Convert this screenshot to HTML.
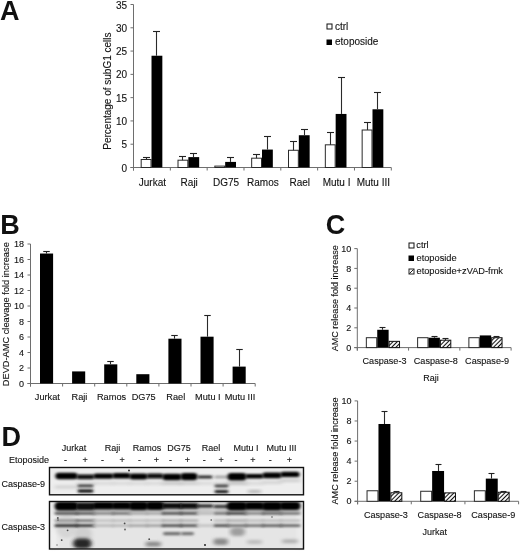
<!DOCTYPE html><html><head><meta charset="utf-8"><style>html,body{margin:0;padding:0;background:#fff;}svg{display:block;filter:grayscale(1);font-family:"Liberation Sans",sans-serif;}text{stroke:#222;stroke-width:0.12px;paint-order:stroke;}text[font-weight]{stroke:none;}</style></head><body>
<svg width="520" height="552" viewBox="0 0 520 552" font-family="Liberation Sans, sans-serif" fill="#111">
<defs>
<pattern id="hatch" patternUnits="userSpaceOnUse" width="3" height="3" patternTransform="rotate(45)">
<rect width="3" height="3" fill="#fff" stroke="none"/><rect x="0" y="0" width="1.05" height="3" fill="#111" stroke="none"/>
</pattern>
<filter id="b1" x="-20%" y="-100%" width="140%" height="300%"><feGaussianBlur stdDeviation="1.6 1.0"/></filter>
<filter id="b2" x="-20%" y="-100%" width="140%" height="300%"><feGaussianBlur stdDeviation="2.2 1.4"/></filter>
<filter id="b3" x="-50%" y="-100%" width="200%" height="300%"><feGaussianBlur stdDeviation="1.0 0.7"/></filter>
<clipPath id="c1"><rect x="49.5" y="467.5" width="254" height="27.3"/></clipPath>
<clipPath id="c2"><rect x="49.5" y="501.5" width="254" height="47.5"/></clipPath>
</defs>
<rect x="0" y="0" width="520" height="552" fill="#fff"/>
<g>
<text x="0" y="20" font-size="27" text-anchor="start" font-weight="bold" >A</text>
<text x="0.3" y="234" font-size="27" text-anchor="start" font-weight="bold" >B</text>
<text x="325.7" y="234" font-size="27" text-anchor="start" font-weight="bold" >C</text>
<text x="1.5" y="445.5" font-size="27" text-anchor="start" font-weight="bold" >D</text>
<line x1="133.5" y1="4.5" x2="133.5" y2="170.5" stroke="#6e6e6e" stroke-width="1"/>
<line x1="130.5" y1="167.5" x2="133.5" y2="167.5" stroke="#6e6e6e" stroke-width="1"/>
<text x="127" y="171.5" font-size="10" text-anchor="end" >0</text>
<line x1="130.5" y1="144.21" x2="133.5" y2="144.21" stroke="#6e6e6e" stroke-width="1"/>
<text x="127" y="148.21" font-size="10" text-anchor="end" >5</text>
<line x1="130.5" y1="120.93" x2="133.5" y2="120.93" stroke="#6e6e6e" stroke-width="1"/>
<text x="127" y="124.93" font-size="10" text-anchor="end" >10</text>
<line x1="130.5" y1="97.64" x2="133.5" y2="97.64" stroke="#6e6e6e" stroke-width="1"/>
<text x="127" y="101.64" font-size="10" text-anchor="end" >15</text>
<line x1="130.5" y1="74.36" x2="133.5" y2="74.36" stroke="#6e6e6e" stroke-width="1"/>
<text x="127" y="78.36" font-size="10" text-anchor="end" >20</text>
<line x1="130.5" y1="51.07" x2="133.5" y2="51.07" stroke="#6e6e6e" stroke-width="1"/>
<text x="127" y="55.07" font-size="10" text-anchor="end" >25</text>
<line x1="130.5" y1="27.79" x2="133.5" y2="27.79" stroke="#6e6e6e" stroke-width="1"/>
<text x="127" y="31.79" font-size="10" text-anchor="end" >30</text>
<line x1="130.5" y1="4.5" x2="133.5" y2="4.5" stroke="#6e6e6e" stroke-width="1"/>
<text x="127" y="8.5" font-size="10" text-anchor="end" >35</text>
<line x1="130.5" y1="167.5" x2="391.3" y2="167.5" stroke="#6e6e6e" stroke-width="1"/>
<line x1="133.5" y1="167.5" x2="133.5" y2="170.5" stroke="#6e6e6e" stroke-width="1"/>
<line x1="170.33" y1="167.5" x2="170.33" y2="170.5" stroke="#6e6e6e" stroke-width="1"/>
<line x1="207.16" y1="167.5" x2="207.16" y2="170.5" stroke="#6e6e6e" stroke-width="1"/>
<line x1="243.99" y1="167.5" x2="243.99" y2="170.5" stroke="#6e6e6e" stroke-width="1"/>
<line x1="280.81" y1="167.5" x2="280.81" y2="170.5" stroke="#6e6e6e" stroke-width="1"/>
<line x1="317.64" y1="167.5" x2="317.64" y2="170.5" stroke="#6e6e6e" stroke-width="1"/>
<line x1="354.47" y1="167.5" x2="354.47" y2="170.5" stroke="#6e6e6e" stroke-width="1"/>
<line x1="391.3" y1="167.5" x2="391.3" y2="170.5" stroke="#6e6e6e" stroke-width="1"/>
<rect x="141.18" y="159.49" width="9.83" height="8.01" fill="#fff" stroke="#2a2a2a" stroke-width="1"/>
<rect x="151.51" y="55.73" width="10.83" height="111.77" fill="#000" stroke="none" stroke-width="0"/>
<line x1="146.5" y1="159.49" x2="146.5" y2="157.5" stroke="#2a2a2a" stroke-width="1.1"/>
<line x1="143" y1="157.5" x2="150" y2="157.5" stroke="#222" stroke-width="1.1"/>
<line x1="156.5" y1="55.73" x2="156.5" y2="31.5" stroke="#2a2a2a" stroke-width="1.1"/>
<line x1="153" y1="31.5" x2="160" y2="31.5" stroke="#222" stroke-width="1.1"/>
<text x="152.41" y="185.5" font-size="10" text-anchor="middle" >Jurkat</text>
<rect x="178.01" y="160.19" width="9.83" height="7.31" fill="#fff" stroke="#2a2a2a" stroke-width="1"/>
<rect x="188.34" y="157.11" width="10.83" height="10.39" fill="#000" stroke="none" stroke-width="0"/>
<line x1="182.5" y1="160.19" x2="182.5" y2="156.5" stroke="#2a2a2a" stroke-width="1.1"/>
<line x1="179" y1="156.5" x2="186" y2="156.5" stroke="#222" stroke-width="1.1"/>
<line x1="193.5" y1="157.11" x2="193.5" y2="153.5" stroke="#2a2a2a" stroke-width="1.1"/>
<line x1="190" y1="153.5" x2="197" y2="153.5" stroke="#222" stroke-width="1.1"/>
<text x="189.24" y="185.5" font-size="10" text-anchor="middle" >Raji</text>
<rect x="214.84" y="166.1" width="9.83" height="1.4" fill="#fff" stroke="#2a2a2a" stroke-width="1"/>
<rect x="225.17" y="161.91" width="10.83" height="5.59" fill="#000" stroke="none" stroke-width="0"/>
<line x1="230.5" y1="161.91" x2="230.5" y2="157.5" stroke="#2a2a2a" stroke-width="1.1"/>
<line x1="227" y1="157.5" x2="234" y2="157.5" stroke="#222" stroke-width="1.1"/>
<text x="226.07" y="185.5" font-size="10" text-anchor="middle" >DG75</text>
<rect x="251.67" y="158.19" width="9.83" height="9.31" fill="#fff" stroke="#2a2a2a" stroke-width="1"/>
<rect x="262" y="149.57" width="10.83" height="17.93" fill="#000" stroke="none" stroke-width="0"/>
<line x1="256.5" y1="158.19" x2="256.5" y2="154.5" stroke="#2a2a2a" stroke-width="1.1"/>
<line x1="253" y1="154.5" x2="260" y2="154.5" stroke="#222" stroke-width="1.1"/>
<line x1="267.5" y1="149.57" x2="267.5" y2="136.5" stroke="#2a2a2a" stroke-width="1.1"/>
<line x1="264" y1="136.5" x2="271" y2="136.5" stroke="#222" stroke-width="1.1"/>
<text x="262.9" y="185.5" font-size="10" text-anchor="middle" >Ramos</text>
<rect x="288.5" y="150.27" width="9.83" height="17.23" fill="#fff" stroke="#2a2a2a" stroke-width="1"/>
<rect x="298.83" y="135.23" width="10.83" height="32.27" fill="#000" stroke="none" stroke-width="0"/>
<line x1="293.5" y1="150.27" x2="293.5" y2="141.5" stroke="#2a2a2a" stroke-width="1.1"/>
<line x1="290" y1="141.5" x2="297" y2="141.5" stroke="#222" stroke-width="1.1"/>
<line x1="304.5" y1="135.23" x2="304.5" y2="129.5" stroke="#2a2a2a" stroke-width="1.1"/>
<line x1="301" y1="129.5" x2="308" y2="129.5" stroke="#222" stroke-width="1.1"/>
<text x="299.73" y="185.5" font-size="10" text-anchor="middle" >Rael</text>
<rect x="325.33" y="144.82" width="9.83" height="22.68" fill="#fff" stroke="#2a2a2a" stroke-width="1"/>
<rect x="335.66" y="113.94" width="10.83" height="53.56" fill="#000" stroke="none" stroke-width="0"/>
<line x1="330.5" y1="144.82" x2="330.5" y2="132.5" stroke="#2a2a2a" stroke-width="1.1"/>
<line x1="327" y1="132.5" x2="334" y2="132.5" stroke="#222" stroke-width="1.1"/>
<line x1="341.5" y1="113.94" x2="341.5" y2="77.5" stroke="#2a2a2a" stroke-width="1.1"/>
<line x1="338" y1="77.5" x2="345" y2="77.5" stroke="#222" stroke-width="1.1"/>
<text x="336.56" y="185.5" font-size="10" text-anchor="middle" >Mutu I</text>
<rect x="362.15" y="130.01" width="9.83" height="37.49" fill="#fff" stroke="#2a2a2a" stroke-width="1"/>
<rect x="372.49" y="109.29" width="10.83" height="58.21" fill="#000" stroke="none" stroke-width="0"/>
<line x1="367.5" y1="130.01" x2="367.5" y2="122.5" stroke="#2a2a2a" stroke-width="1.1"/>
<line x1="364" y1="122.5" x2="371" y2="122.5" stroke="#222" stroke-width="1.1"/>
<line x1="377.5" y1="109.29" x2="377.5" y2="92.5" stroke="#2a2a2a" stroke-width="1.1"/>
<line x1="374" y1="92.5" x2="381" y2="92.5" stroke="#222" stroke-width="1.1"/>
<text x="373.39" y="185.5" font-size="10" text-anchor="middle" >Mutu III</text>
<text x="0" y="0" font-size="10" text-anchor="middle" transform="translate(111,91.1) rotate(-90)">Percentage of subG1 cells</text>
<rect x="327" y="24" width="5" height="5" fill="#fff" stroke="#111" stroke-width="1"/>
<text x="335" y="29.5" font-size="10" text-anchor="start" >ctrl</text>
<rect x="326.5" y="39.5" width="5.5" height="5.5" fill="#000" stroke="none" stroke-width="0"/>
<text x="335" y="45" font-size="10" text-anchor="start" >etoposide</text>
<line x1="30.5" y1="244" x2="30.5" y2="386.5" stroke="#6e6e6e" stroke-width="1"/>
<line x1="27.5" y1="383.5" x2="30.5" y2="383.5" stroke="#6e6e6e" stroke-width="1"/>
<text x="24" y="386.65" font-size="9" text-anchor="end" >0</text>
<line x1="27.5" y1="368" x2="30.5" y2="368" stroke="#6e6e6e" stroke-width="1"/>
<text x="24" y="371.15" font-size="9" text-anchor="end" >2</text>
<line x1="27.5" y1="352.5" x2="30.5" y2="352.5" stroke="#6e6e6e" stroke-width="1"/>
<text x="24" y="355.65" font-size="9" text-anchor="end" >4</text>
<line x1="27.5" y1="337" x2="30.5" y2="337" stroke="#6e6e6e" stroke-width="1"/>
<text x="24" y="340.15" font-size="9" text-anchor="end" >6</text>
<line x1="27.5" y1="321.5" x2="30.5" y2="321.5" stroke="#6e6e6e" stroke-width="1"/>
<text x="24" y="324.65" font-size="9" text-anchor="end" >8</text>
<line x1="27.5" y1="306" x2="30.5" y2="306" stroke="#6e6e6e" stroke-width="1"/>
<text x="24" y="309.15" font-size="9" text-anchor="end" >10</text>
<line x1="27.5" y1="290.5" x2="30.5" y2="290.5" stroke="#6e6e6e" stroke-width="1"/>
<text x="24" y="293.65" font-size="9" text-anchor="end" >12</text>
<line x1="27.5" y1="275" x2="30.5" y2="275" stroke="#6e6e6e" stroke-width="1"/>
<text x="24" y="278.15" font-size="9" text-anchor="end" >14</text>
<line x1="27.5" y1="259.5" x2="30.5" y2="259.5" stroke="#6e6e6e" stroke-width="1"/>
<text x="24" y="262.65" font-size="9" text-anchor="end" >16</text>
<line x1="27.5" y1="244" x2="30.5" y2="244" stroke="#6e6e6e" stroke-width="1"/>
<text x="24" y="247.15" font-size="9" text-anchor="end" >18</text>
<line x1="27.5" y1="383.5" x2="255.2" y2="383.5" stroke="#6e6e6e" stroke-width="1"/>
<line x1="30.5" y1="383.5" x2="30.5" y2="386.5" stroke="#6e6e6e" stroke-width="1"/>
<line x1="62.6" y1="383.5" x2="62.6" y2="386.5" stroke="#6e6e6e" stroke-width="1"/>
<line x1="94.7" y1="383.5" x2="94.7" y2="386.5" stroke="#6e6e6e" stroke-width="1"/>
<line x1="126.8" y1="383.5" x2="126.8" y2="386.5" stroke="#6e6e6e" stroke-width="1"/>
<line x1="158.9" y1="383.5" x2="158.9" y2="386.5" stroke="#6e6e6e" stroke-width="1"/>
<line x1="191" y1="383.5" x2="191" y2="386.5" stroke="#6e6e6e" stroke-width="1"/>
<line x1="223.1" y1="383.5" x2="223.1" y2="386.5" stroke="#6e6e6e" stroke-width="1"/>
<line x1="255.2" y1="383.5" x2="255.2" y2="386.5" stroke="#6e6e6e" stroke-width="1"/>
<rect x="40" y="253.53" width="13.1" height="129.97" fill="#000" stroke="none" stroke-width="0"/>
<line x1="46.5" y1="253.53" x2="46.5" y2="251.5" stroke="#2a2a2a" stroke-width="1.1"/>
<line x1="43.25" y1="251.5" x2="49.75" y2="251.5" stroke="#222" stroke-width="1.1"/>
<text x="47.35" y="399.5" font-size="9.2" text-anchor="middle" >Jurkat</text>
<rect x="72.1" y="371.41" width="13.1" height="12.09" fill="#000" stroke="none" stroke-width="0"/>
<text x="79.45" y="399.5" font-size="9.2" text-anchor="middle" >Raji</text>
<rect x="104.2" y="364.36" width="13.1" height="19.14" fill="#000" stroke="none" stroke-width="0"/>
<line x1="110.5" y1="364.36" x2="110.5" y2="361.5" stroke="#2a2a2a" stroke-width="1.1"/>
<line x1="107.25" y1="361.5" x2="113.75" y2="361.5" stroke="#222" stroke-width="1.1"/>
<text x="111.55" y="399.5" font-size="9.2" text-anchor="middle" >Ramos</text>
<rect x="136.3" y="374.2" width="13.1" height="9.3" fill="#000" stroke="none" stroke-width="0"/>
<text x="143.65" y="399.5" font-size="9.2" text-anchor="middle" >DG75</text>
<rect x="168.4" y="338.7" width="13.1" height="44.8" fill="#000" stroke="none" stroke-width="0"/>
<line x1="174.5" y1="338.7" x2="174.5" y2="335.5" stroke="#2a2a2a" stroke-width="1.1"/>
<line x1="171.25" y1="335.5" x2="177.75" y2="335.5" stroke="#222" stroke-width="1.1"/>
<text x="175.75" y="399.5" font-size="9.2" text-anchor="middle" >Rael</text>
<rect x="200.5" y="336.69" width="13.1" height="46.81" fill="#000" stroke="none" stroke-width="0"/>
<line x1="207.5" y1="336.69" x2="207.5" y2="315.5" stroke="#2a2a2a" stroke-width="1.1"/>
<line x1="204.25" y1="315.5" x2="210.75" y2="315.5" stroke="#222" stroke-width="1.1"/>
<text x="207.85" y="399.5" font-size="9.2" text-anchor="middle" >Mutu I</text>
<rect x="232.6" y="366.61" width="13.1" height="16.89" fill="#000" stroke="none" stroke-width="0"/>
<line x1="239.5" y1="366.61" x2="239.5" y2="349.5" stroke="#2a2a2a" stroke-width="1.1"/>
<line x1="236.25" y1="349.5" x2="242.75" y2="349.5" stroke="#222" stroke-width="1.1"/>
<text x="239.95" y="399.5" font-size="9.2" text-anchor="middle" >Mutu III</text>
<text x="0" y="0" font-size="9.25" text-anchor="middle" transform="translate(8.7,314.2) rotate(-90)">DEVD-AMC cleavage fold increase</text>
<line x1="357.3" y1="248.6" x2="357.3" y2="350.6" stroke="#6e6e6e" stroke-width="1"/>
<line x1="354.3" y1="347.6" x2="357.3" y2="347.6" stroke="#6e6e6e" stroke-width="1"/>
<text x="351.3" y="350.75" font-size="9" text-anchor="end" >0</text>
<line x1="354.3" y1="327.8" x2="357.3" y2="327.8" stroke="#6e6e6e" stroke-width="1"/>
<text x="351.3" y="330.95" font-size="9" text-anchor="end" >2</text>
<line x1="354.3" y1="308" x2="357.3" y2="308" stroke="#6e6e6e" stroke-width="1"/>
<text x="351.3" y="311.15" font-size="9" text-anchor="end" >4</text>
<line x1="354.3" y1="288.2" x2="357.3" y2="288.2" stroke="#6e6e6e" stroke-width="1"/>
<text x="351.3" y="291.35" font-size="9" text-anchor="end" >6</text>
<line x1="354.3" y1="268.4" x2="357.3" y2="268.4" stroke="#6e6e6e" stroke-width="1"/>
<text x="351.3" y="271.55" font-size="9" text-anchor="end" >8</text>
<line x1="354.3" y1="248.6" x2="357.3" y2="248.6" stroke="#6e6e6e" stroke-width="1"/>
<text x="351.3" y="251.75" font-size="9" text-anchor="end" >10</text>
<line x1="354.3" y1="347.6" x2="511.1" y2="347.6" stroke="#6e6e6e" stroke-width="1"/>
<line x1="357.3" y1="347.6" x2="357.3" y2="350.6" stroke="#6e6e6e" stroke-width="1"/>
<line x1="408.57" y1="347.6" x2="408.57" y2="350.6" stroke="#6e6e6e" stroke-width="1"/>
<line x1="459.83" y1="347.6" x2="459.83" y2="350.6" stroke="#6e6e6e" stroke-width="1"/>
<line x1="511.1" y1="347.6" x2="511.1" y2="350.6" stroke="#6e6e6e" stroke-width="1"/>
<rect x="366.34" y="337.7" width="10.39" height="9.9" fill="#fff" stroke="#2a2a2a" stroke-width="1"/>
<rect x="377.24" y="329.78" width="11.39" height="17.82" fill="#000" stroke="none" stroke-width="0"/>
<rect x="389.13" y="341.36" width="10.39" height="6.24" fill="url(#hatch)" stroke="#111" stroke-width="1"/>
<line x1="382.5" y1="329.78" x2="382.5" y2="327.5" stroke="#2a2a2a" stroke-width="1.1"/>
<line x1="379.5" y1="327.5" x2="385.5" y2="327.5" stroke="#222" stroke-width="1.1"/>
<text x="384.53" y="364.4" font-size="9.1" text-anchor="middle" >Caspase-3</text>
<rect x="417.61" y="337.7" width="10.39" height="9.9" fill="#fff" stroke="#2a2a2a" stroke-width="1"/>
<rect x="428.5" y="337.7" width="11.39" height="9.9" fill="#000" stroke="none" stroke-width="0"/>
<rect x="440.4" y="340.18" width="10.39" height="7.43" fill="url(#hatch)" stroke="#111" stroke-width="1"/>
<line x1="434.5" y1="337.7" x2="434.5" y2="336.5" stroke="#2a2a2a" stroke-width="1.1"/>
<line x1="431.5" y1="336.5" x2="437.5" y2="336.5" stroke="#222" stroke-width="1.1"/>
<line x1="445.5" y1="340.18" x2="445.5" y2="338.5" stroke="#2a2a2a" stroke-width="1.1"/>
<line x1="442.5" y1="338.5" x2="448.5" y2="338.5" stroke="#222" stroke-width="1.1"/>
<text x="435.8" y="364.4" font-size="9.1" text-anchor="middle" >Caspase-8</text>
<rect x="468.88" y="337.7" width="10.39" height="9.9" fill="#fff" stroke="#2a2a2a" stroke-width="1"/>
<rect x="479.77" y="335.42" width="11.39" height="12.18" fill="#000" stroke="none" stroke-width="0"/>
<rect x="491.66" y="337.7" width="10.39" height="9.9" fill="url(#hatch)" stroke="#111" stroke-width="1"/>
<line x1="496.5" y1="337.7" x2="496.5" y2="336.5" stroke="#2a2a2a" stroke-width="1.1"/>
<line x1="493.5" y1="336.5" x2="499.5" y2="336.5" stroke="#222" stroke-width="1.1"/>
<text x="487.07" y="364.4" font-size="9.1" text-anchor="middle" >Caspase-9</text>
<text x="0" y="0" font-size="9.05" text-anchor="middle" transform="translate(337.5,298.3) rotate(-90)">AMC release fold increase</text>
<text x="431" y="380.8" font-size="9" text-anchor="middle" >Raji</text>
<rect x="409" y="243" width="5" height="5" fill="#fff" stroke="#111" stroke-width="1"/>
<text x="416.3" y="248.3" font-size="9.25" text-anchor="start" >ctrl</text>
<rect x="408.5" y="255.5" width="5.5" height="5.5" fill="#000" stroke="none" stroke-width="0"/>
<text x="416.5" y="261" font-size="9.25" text-anchor="start" >etoposide</text>
<rect x="409" y="269" width="5" height="5" fill="#fff" stroke="#222" stroke-width="1"/>
<line x1="409.3" y1="273.7" x2="413.7" y2="269.3" stroke="#222" stroke-width="1"/>
<text x="416.5" y="274" font-size="9.25" text-anchor="start" >etoposide+zVAD-fmk</text>
<line x1="357.6" y1="400.9" x2="357.6" y2="504.3" stroke="#6e6e6e" stroke-width="1"/>
<line x1="354.6" y1="501.3" x2="357.6" y2="501.3" stroke="#6e6e6e" stroke-width="1"/>
<text x="351.6" y="504.45" font-size="9" text-anchor="end" >0</text>
<line x1="354.6" y1="481.22" x2="357.6" y2="481.22" stroke="#6e6e6e" stroke-width="1"/>
<text x="351.6" y="484.37" font-size="9" text-anchor="end" >2</text>
<line x1="354.6" y1="461.14" x2="357.6" y2="461.14" stroke="#6e6e6e" stroke-width="1"/>
<text x="351.6" y="464.29" font-size="9" text-anchor="end" >4</text>
<line x1="354.6" y1="441.06" x2="357.6" y2="441.06" stroke="#6e6e6e" stroke-width="1"/>
<text x="351.6" y="444.21" font-size="9" text-anchor="end" >6</text>
<line x1="354.6" y1="420.98" x2="357.6" y2="420.98" stroke="#6e6e6e" stroke-width="1"/>
<text x="351.6" y="424.13" font-size="9" text-anchor="end" >8</text>
<line x1="354.6" y1="400.9" x2="357.6" y2="400.9" stroke="#6e6e6e" stroke-width="1"/>
<text x="351.6" y="404.05" font-size="9" text-anchor="end" >10</text>
<line x1="354.6" y1="501.3" x2="518.6" y2="501.3" stroke="#6e6e6e" stroke-width="1"/>
<line x1="357.6" y1="501.3" x2="357.6" y2="504.3" stroke="#6e6e6e" stroke-width="1"/>
<line x1="411.27" y1="501.3" x2="411.27" y2="504.3" stroke="#6e6e6e" stroke-width="1"/>
<line x1="464.93" y1="501.3" x2="464.93" y2="504.3" stroke="#6e6e6e" stroke-width="1"/>
<line x1="518.6" y1="501.3" x2="518.6" y2="504.3" stroke="#6e6e6e" stroke-width="1"/>
<rect x="367.04" y="490.76" width="10.93" height="10.54" fill="#fff" stroke="#2a2a2a" stroke-width="1"/>
<rect x="378.47" y="423.99" width="11.93" height="77.31" fill="#000" stroke="none" stroke-width="0"/>
<rect x="390.9" y="492.77" width="10.93" height="8.53" fill="url(#hatch)" stroke="#111" stroke-width="1"/>
<line x1="384.5" y1="423.99" x2="384.5" y2="411.5" stroke="#2a2a2a" stroke-width="1.1"/>
<line x1="381.5" y1="411.5" x2="387.5" y2="411.5" stroke="#222" stroke-width="1.1"/>
<line x1="396.5" y1="492.77" x2="396.5" y2="491.5" stroke="#2a2a2a" stroke-width="1.1"/>
<line x1="393.5" y1="491.5" x2="399.5" y2="491.5" stroke="#222" stroke-width="1.1"/>
<text x="385.93" y="517.8" font-size="9.1" text-anchor="middle" >Caspase-3</text>
<rect x="420.71" y="491.26" width="10.93" height="10.04" fill="#fff" stroke="#2a2a2a" stroke-width="1"/>
<rect x="432.14" y="470.98" width="11.93" height="30.32" fill="#000" stroke="none" stroke-width="0"/>
<rect x="444.56" y="492.87" width="10.93" height="8.43" fill="url(#hatch)" stroke="#111" stroke-width="1"/>
<line x1="438.5" y1="470.98" x2="438.5" y2="464.5" stroke="#2a2a2a" stroke-width="1.1"/>
<line x1="435.5" y1="464.5" x2="441.5" y2="464.5" stroke="#222" stroke-width="1.1"/>
<text x="439.6" y="517.8" font-size="9.1" text-anchor="middle" >Caspase-8</text>
<rect x="474.38" y="490.76" width="10.93" height="10.54" fill="#fff" stroke="#2a2a2a" stroke-width="1"/>
<rect x="485.8" y="478.61" width="11.93" height="22.69" fill="#000" stroke="none" stroke-width="0"/>
<rect x="498.23" y="492.26" width="10.93" height="9.04" fill="url(#hatch)" stroke="#111" stroke-width="1"/>
<line x1="491.5" y1="478.61" x2="491.5" y2="473.5" stroke="#2a2a2a" stroke-width="1.1"/>
<line x1="488.5" y1="473.5" x2="494.5" y2="473.5" stroke="#222" stroke-width="1.1"/>
<line x1="503.5" y1="492.26" x2="503.5" y2="491.5" stroke="#2a2a2a" stroke-width="1.1"/>
<line x1="500.5" y1="491.5" x2="506.5" y2="491.5" stroke="#222" stroke-width="1.1"/>
<text x="493.27" y="517.8" font-size="9.1" text-anchor="middle" >Caspase-9</text>
<text x="0" y="0" font-size="9.15" text-anchor="middle" transform="translate(337.5,451) rotate(-90)">AMC release fold increase</text>
<text x="434.8" y="534.5" font-size="9" text-anchor="middle" >Jurkat</text>
<text x="74" y="451" font-size="9" text-anchor="middle" >Jurkat</text>
<text x="112.5" y="451" font-size="9" text-anchor="middle" >Raji</text>
<text x="147" y="451" font-size="9" text-anchor="middle" >Ramos</text>
<text x="179" y="451" font-size="9" text-anchor="middle" >DG75</text>
<text x="211" y="451" font-size="9" text-anchor="middle" >Rael</text>
<text x="246" y="451" font-size="9" text-anchor="middle" >Mutu I</text>
<text x="281.5" y="451" font-size="9" text-anchor="middle" >Mutu III</text>
<text x="9" y="462.5" font-size="9" text-anchor="start" >Etoposide</text>
<text x="65.6" y="462.5" font-size="9" text-anchor="middle" >-</text>
<text x="85.2" y="462.5" font-size="9" text-anchor="middle" >+</text>
<text x="102.5" y="462.5" font-size="9" text-anchor="middle" >-</text>
<text x="122.1" y="462.5" font-size="9" text-anchor="middle" >+</text>
<text x="139.6" y="462.5" font-size="9" text-anchor="middle" >-</text>
<text x="156.3" y="462.5" font-size="9" text-anchor="middle" >+</text>
<text x="170.6" y="462.5" font-size="9" text-anchor="middle" >-</text>
<text x="187.5" y="462.5" font-size="9" text-anchor="middle" >+</text>
<text x="204.2" y="462.5" font-size="9" text-anchor="middle" >-</text>
<text x="221.2" y="462.5" font-size="9" text-anchor="middle" >+</text>
<text x="236" y="462.5" font-size="9" text-anchor="middle" >-</text>
<text x="252.9" y="462.5" font-size="9" text-anchor="middle" >+</text>
<text x="270.2" y="462.5" font-size="9" text-anchor="middle" >-</text>
<text x="289.3" y="462.5" font-size="9" text-anchor="middle" >+</text>
<text x="1.5" y="487" font-size="9" text-anchor="start" >Caspase-9</text>
<text x="1.5" y="529.5" font-size="9" text-anchor="start" >Caspase-3</text>
<rect x="49.5" y="467.5" width="254" height="27.3" fill="#eeeeee" stroke="none"/>
<g clip-path="url(#c1)">
<rect x="54.5" y="485.5" width="24.0" height="3.0" rx="1.5" fill="#cfcfcf" filter="url(#b2)"/>
<rect x="161.5" y="482.0" width="21.0" height="2.5" rx="1.2" fill="#bdbdbd" filter="url(#b2)"/>
<rect x="179.5" y="482.0" width="19.0" height="2.5" rx="1.2" fill="#c4c4c4" filter="url(#b2)"/>
<rect x="226.5" y="482.0" width="21.0" height="2.5" rx="1.2" fill="#b5b5b5" filter="url(#b2)"/>
<rect x="261.5" y="481.5" width="21.0" height="2.0" rx="1.0" fill="#c6c6c6" filter="url(#b2)"/>
<rect x="279.5" y="479.5" width="21.0" height="2.0" rx="1.0" fill="#bdbdbd" filter="url(#b2)"/>
<rect x="75.5" y="482.5" width="20.0" height="1.5" rx="0.8" fill="#d0d0d0" filter="url(#b2)"/>
<rect x="92.5" y="482.2" width="22.0" height="2.2" rx="1.1" fill="#d2d2d2" filter="url(#b2)"/>
<rect x="111.5" y="482.2" width="20.0" height="2.2" rx="1.1" fill="#d2d2d2" filter="url(#b2)"/>
<rect x="128.5" y="482.2" width="20.0" height="2.2" rx="1.1" fill="#d2d2d2" filter="url(#b2)"/>
<rect x="145.5" y="482.2" width="19.0" height="2.2" rx="1.1" fill="#d2d2d2" filter="url(#b2)"/>
<rect x="196.5" y="482.2" width="17.0" height="2.2" rx="1.1" fill="#d2d2d2" filter="url(#b2)"/>
<rect x="213.5" y="482.2" width="16.0" height="2.2" rx="1.1" fill="#d2d2d2" filter="url(#b2)"/>
<rect x="244.5" y="482.2" width="20.0" height="2.2" rx="1.1" fill="#d2d2d2" filter="url(#b2)"/>
<rect x="55.4" y="472.8" width="22.2" height="6.4" rx="3.2" fill="#000" filter="url(#b1)"/>
<rect x="76.4" y="474.6" width="18.2" height="4.6" rx="2.3" fill="#080808" filter="url(#b1)"/>
<rect x="93.4" y="473.4" width="20.2" height="5.4" rx="2.7" fill="#050505" filter="url(#b1)"/>
<rect x="112.4" y="473.0" width="18.2" height="5.6" rx="2.8" fill="#050505" filter="url(#b1)"/>
<rect x="129.4" y="473.4" width="18.2" height="6.0" rx="3.0" fill="#050505" filter="url(#b1)"/>
<rect x="146.4" y="473.5" width="17.2" height="5.1" rx="2.6" fill="#0a0a0a" filter="url(#b1)"/>
<rect x="162.4" y="473.8" width="19.2" height="6.5" rx="3.2" fill="#000" filter="url(#b1)"/>
<rect x="180.4" y="473.0" width="17.2" height="7.2" rx="3.6" fill="#000" filter="url(#b1)"/>
<rect x="197.4" y="475.4" width="15.2" height="3.0" rx="1.5" fill="#2a2a2a" filter="url(#b1)"/>
<rect x="214.4" y="475.4" width="14.2" height="3.0" rx="1.5" fill="#a8a8a8" filter="url(#b1)"/>
<rect x="227.4" y="473.0" width="19.2" height="7.4" rx="3.7" fill="#000" filter="url(#b1)"/>
<rect x="245.4" y="474.0" width="18.2" height="4.4" rx="2.2" fill="#050505" filter="url(#b1)"/>
<rect x="262.4" y="472.6" width="19.2" height="5.7" rx="2.8" fill="#000" filter="url(#b1)"/>
<rect x="280.4" y="471.8" width="19.2" height="5.2" rx="2.6" fill="#000" filter="url(#b1)"/>
<rect x="77.5" y="484.6" width="16.0" height="2.6" rx="1.3" fill="#3a3a3a" filter="url(#b1)"/>
<rect x="77.5" y="489.2" width="16.0" height="3.6" rx="1.8" fill="#1a1a1a" filter="url(#b1)"/>
<rect x="214.5" y="484.6" width="14.0" height="2.8" rx="1.4" fill="#444" filter="url(#b1)"/>
<rect x="214.5" y="490.0" width="14.0" height="3.2" rx="1.6" fill="#222" filter="url(#b1)"/>
<rect x="248.0" y="490.5" width="13.0" height="2.0" rx="1.0" fill="#999" filter="url(#b2)"/>
<circle cx="129" cy="470.5" r="0.9" fill="#222"/>
</g>
<rect x="49.5" y="501.5" width="254" height="47.5" fill="#e5e5e5" stroke="none"/>
<rect x="49.5" y="501.5" width="8" height="47.5" fill="#f0f0f0" filter="url(#b2)"/>
<rect x="297" y="501.5" width="6" height="47.5" fill="#ececec" filter="url(#b2)"/>
<g clip-path="url(#c2)">
<rect x="56.0" y="514.0" width="21.0" height="24.0" rx="12.0" fill="#d6d6d6" filter="url(#b2)"/>
<rect x="74.0" y="527.0" width="18.0" height="14.0" rx="7.0" fill="#cfcfcf" filter="url(#b2)"/>
<rect x="230.0" y="527.5" width="15.0" height="8.5" rx="4.2" fill="#9e9e9e" filter="url(#b2)"/>
<rect x="163.0" y="532.0" width="18.0" height="3.2" rx="1.6" fill="#707070" filter="url(#b1)"/>
<rect x="181.0" y="532.0" width="13.0" height="3.2" rx="1.6" fill="#757575" filter="url(#b1)"/>
<rect x="54.5" y="509.5" width="24.0" height="2.5" rx="1.2" fill="#b8b8b8" filter="url(#b2)"/>
<rect x="75.5" y="509.5" width="20.0" height="2.5" rx="1.2" fill="#b8b8b8" filter="url(#b2)"/>
<rect x="92.5" y="509.5" width="22.0" height="2.5" rx="1.2" fill="#b8b8b8" filter="url(#b2)"/>
<rect x="111.5" y="509.5" width="20.0" height="2.5" rx="1.2" fill="#b8b8b8" filter="url(#b2)"/>
<rect x="128.5" y="509.5" width="20.0" height="2.5" rx="1.2" fill="#b8b8b8" filter="url(#b2)"/>
<rect x="145.5" y="509.5" width="19.0" height="2.5" rx="1.2" fill="#b8b8b8" filter="url(#b2)"/>
<rect x="161.5" y="509.5" width="21.0" height="2.5" rx="1.2" fill="#b8b8b8" filter="url(#b2)"/>
<rect x="179.5" y="509.5" width="19.0" height="2.5" rx="1.2" fill="#b8b8b8" filter="url(#b2)"/>
<rect x="196.5" y="509.5" width="17.0" height="2.5" rx="1.2" fill="#b8b8b8" filter="url(#b2)"/>
<rect x="213.5" y="509.5" width="16.0" height="2.5" rx="1.2" fill="#b8b8b8" filter="url(#b2)"/>
<rect x="226.5" y="509.5" width="21.0" height="2.5" rx="1.2" fill="#b8b8b8" filter="url(#b2)"/>
<rect x="244.5" y="509.5" width="20.0" height="2.5" rx="1.2" fill="#b8b8b8" filter="url(#b2)"/>
<rect x="261.5" y="509.5" width="21.0" height="2.5" rx="1.2" fill="#b8b8b8" filter="url(#b2)"/>
<rect x="279.5" y="509.5" width="21.0" height="2.5" rx="1.2" fill="#b8b8b8" filter="url(#b2)"/>
<rect x="54.5" y="512.0" width="24.0" height="2.8" rx="1.4" fill="#555" filter="url(#b1)"/>
<rect x="75.5" y="512.0" width="20.0" height="2.8" rx="1.4" fill="#5a5a5a" filter="url(#b1)"/>
<rect x="92.5" y="512.0" width="22.0" height="2.8" rx="1.4" fill="#888" filter="url(#b1)"/>
<rect x="111.5" y="512.0" width="20.0" height="2.8" rx="1.4" fill="#777" filter="url(#b1)"/>
<rect x="128.5" y="512.0" width="20.0" height="2.8" rx="1.4" fill="#aaa" filter="url(#b1)"/>
<rect x="145.5" y="512.0" width="19.0" height="2.8" rx="1.4" fill="#aaa" filter="url(#b1)"/>
<rect x="161.5" y="512.0" width="21.0" height="2.8" rx="1.4" fill="#555" filter="url(#b1)"/>
<rect x="179.5" y="512.0" width="19.0" height="2.8" rx="1.4" fill="#555" filter="url(#b1)"/>
<rect x="196.5" y="512.0" width="17.0" height="2.8" rx="1.4" fill="#bbb" filter="url(#b1)"/>
<rect x="213.5" y="512.0" width="16.0" height="2.8" rx="1.4" fill="#777" filter="url(#b1)"/>
<rect x="226.5" y="512.0" width="21.0" height="2.8" rx="1.4" fill="#444" filter="url(#b1)"/>
<rect x="244.5" y="512.0" width="20.0" height="2.8" rx="1.4" fill="#888" filter="url(#b1)"/>
<rect x="261.5" y="512.0" width="21.0" height="2.8" rx="1.4" fill="#666" filter="url(#b1)"/>
<rect x="279.5" y="512.0" width="21.0" height="2.8" rx="1.4" fill="#777" filter="url(#b1)"/>
<rect x="54.5" y="519.5" width="24.0" height="2.3" rx="1.1" fill="#8a8a8a" filter="url(#b1)"/>
<rect x="75.5" y="519.5" width="20.0" height="2.3" rx="1.1" fill="#6a6a6a" filter="url(#b1)"/>
<rect x="92.5" y="519.5" width="22.0" height="2.3" rx="1.1" fill="#c0c0c0" filter="url(#b1)"/>
<rect x="111.5" y="519.5" width="20.0" height="2.3" rx="1.1" fill="#bbb" filter="url(#b1)"/>
<rect x="128.5" y="519.5" width="20.0" height="2.3" rx="1.1" fill="#c0c0c0" filter="url(#b1)"/>
<rect x="145.5" y="519.5" width="19.0" height="2.3" rx="1.1" fill="#c0c0c0" filter="url(#b1)"/>
<rect x="161.5" y="519.5" width="21.0" height="2.3" rx="1.1" fill="#aaa" filter="url(#b1)"/>
<rect x="179.5" y="519.5" width="19.0" height="2.3" rx="1.1" fill="#aaa" filter="url(#b1)"/>
<rect x="213.5" y="519.5" width="16.0" height="2.3" rx="1.1" fill="#bbb" filter="url(#b1)"/>
<rect x="226.5" y="519.5" width="21.0" height="2.3" rx="1.1" fill="#aaa" filter="url(#b1)"/>
<rect x="244.5" y="519.5" width="20.0" height="2.3" rx="1.1" fill="#bbb" filter="url(#b1)"/>
<rect x="261.5" y="519.5" width="21.0" height="2.3" rx="1.1" fill="#bbb" filter="url(#b1)"/>
<rect x="279.5" y="519.5" width="21.0" height="2.3" rx="1.1" fill="#bbb" filter="url(#b1)"/>
<rect x="54.5" y="524.3" width="24.0" height="2.7" rx="1.4" fill="#333" filter="url(#b1)"/>
<rect x="75.5" y="524.3" width="20.0" height="2.7" rx="1.4" fill="#3a3a3a" filter="url(#b1)"/>
<rect x="92.5" y="524.3" width="22.0" height="2.7" rx="1.4" fill="#bbb" filter="url(#b1)"/>
<rect x="111.5" y="524.3" width="20.0" height="2.7" rx="1.4" fill="#bbb" filter="url(#b1)"/>
<rect x="128.5" y="524.3" width="20.0" height="2.7" rx="1.4" fill="#aaa" filter="url(#b1)"/>
<rect x="145.5" y="524.3" width="19.0" height="2.7" rx="1.4" fill="#a5a5a5" filter="url(#b1)"/>
<rect x="161.5" y="524.3" width="21.0" height="2.7" rx="1.4" fill="#555" filter="url(#b1)"/>
<rect x="179.5" y="524.3" width="19.0" height="2.7" rx="1.4" fill="#5a5a5a" filter="url(#b1)"/>
<rect x="196.5" y="524.3" width="17.0" height="2.7" rx="1.4" fill="#c5c5c5" filter="url(#b1)"/>
<rect x="213.5" y="524.3" width="16.0" height="2.7" rx="1.4" fill="#555" filter="url(#b1)"/>
<rect x="226.5" y="524.3" width="21.0" height="2.7" rx="1.4" fill="#777" filter="url(#b1)"/>
<rect x="244.5" y="524.3" width="20.0" height="2.7" rx="1.4" fill="#777" filter="url(#b1)"/>
<rect x="261.5" y="524.3" width="21.0" height="2.7" rx="1.4" fill="#666" filter="url(#b1)"/>
<rect x="279.5" y="524.3" width="21.0" height="2.7" rx="1.4" fill="#6a6a6a" filter="url(#b1)"/>
<rect x="73.0" y="538.5" width="18.5" height="10.0" rx="5.0" fill="#262626" filter="url(#b2)"/>
<rect x="145.5" y="541.8" width="15.5" height="4.7" rx="2.4" fill="#888" filter="url(#b2)"/>
<rect x="213.5" y="538.6" width="14.5" height="6.4" rx="3.2" fill="#8a8a8a" filter="url(#b2)"/>
<rect x="247.0" y="540.0" width="15.0" height="4.0" rx="2.0" fill="#bbb" filter="url(#b2)"/>
<rect x="282.0" y="539.5" width="16.0" height="3.5" rx="1.8" fill="#aaa" filter="url(#b2)"/>
<rect x="54.5" y="501.8" width="24.0" height="8.6" rx="4.3" fill="#000" filter="url(#b1)"/>
<rect x="75.5" y="502.6" width="20.0" height="7.6" rx="3.8" fill="#080808" filter="url(#b1)"/>
<rect x="92.5" y="502.0" width="22.0" height="7.6" rx="3.8" fill="#000" filter="url(#b1)"/>
<rect x="111.5" y="502.0" width="20.0" height="7.6" rx="3.8" fill="#000" filter="url(#b1)"/>
<rect x="128.5" y="501.6" width="20.0" height="8.6" rx="4.3" fill="#000" filter="url(#b1)"/>
<rect x="145.5" y="501.6" width="19.0" height="8.4" rx="4.2" fill="#000" filter="url(#b1)"/>
<rect x="161.5" y="503.0" width="21.0" height="5.8" rx="2.9" fill="#080808" filter="url(#b1)"/>
<rect x="179.5" y="503.0" width="19.0" height="5.8" rx="2.9" fill="#080808" filter="url(#b1)"/>
<rect x="196.5" y="504.6" width="17.0" height="3.0" rx="1.5" fill="#1a1a1a" filter="url(#b1)"/>
<rect x="213.5" y="504.8" width="16.0" height="3.4" rx="1.7" fill="#3a3a3a" filter="url(#b1)"/>
<rect x="226.5" y="501.8" width="21.0" height="8.6" rx="4.3" fill="#000" filter="url(#b1)"/>
<rect x="244.5" y="502.0" width="20.0" height="7.8" rx="3.9" fill="#000" filter="url(#b1)"/>
<rect x="261.5" y="501.8" width="21.0" height="8.8" rx="4.4" fill="#000" filter="url(#b1)"/>
<rect x="279.5" y="501.8" width="21.0" height="8.2" rx="4.1" fill="#000" filter="url(#b1)"/>
<circle cx="124.6" cy="523.4" r="0.9" fill="#333" opacity="0.85"/>
<circle cx="125" cy="529.5" r="0.9" fill="#444" opacity="0.85"/>
<circle cx="149.2" cy="539.2" r="0.9" fill="#333" opacity="0.85"/>
<circle cx="205" cy="545" r="1.1" fill="#111" opacity="0.85"/>
<circle cx="211.2" cy="520" r="0.8" fill="#333" opacity="0.85"/>
<circle cx="67.6" cy="530.3" r="0.9" fill="#333" opacity="0.85"/>
<circle cx="57.8" cy="518" r="1" fill="#444" opacity="0.85"/>
<circle cx="61.7" cy="540.1" r="0.9" fill="#222" opacity="0.85"/>
<circle cx="272" cy="517" r="0.8" fill="#444" opacity="0.85"/>
<circle cx="57" cy="545" r="0.7" fill="#555" opacity="0.85"/>
<circle cx="58" cy="520" r="0.8" fill="#444" opacity="0.85"/>
</g>
<rect x="49.5" y="467.5" width="254" height="27.3" fill="none" stroke="#111" stroke-width="1.4"/>
<rect x="49.5" y="501.5" width="254" height="47.5" fill="none" stroke="#111" stroke-width="1.4"/>
</g>
</svg></body></html>
